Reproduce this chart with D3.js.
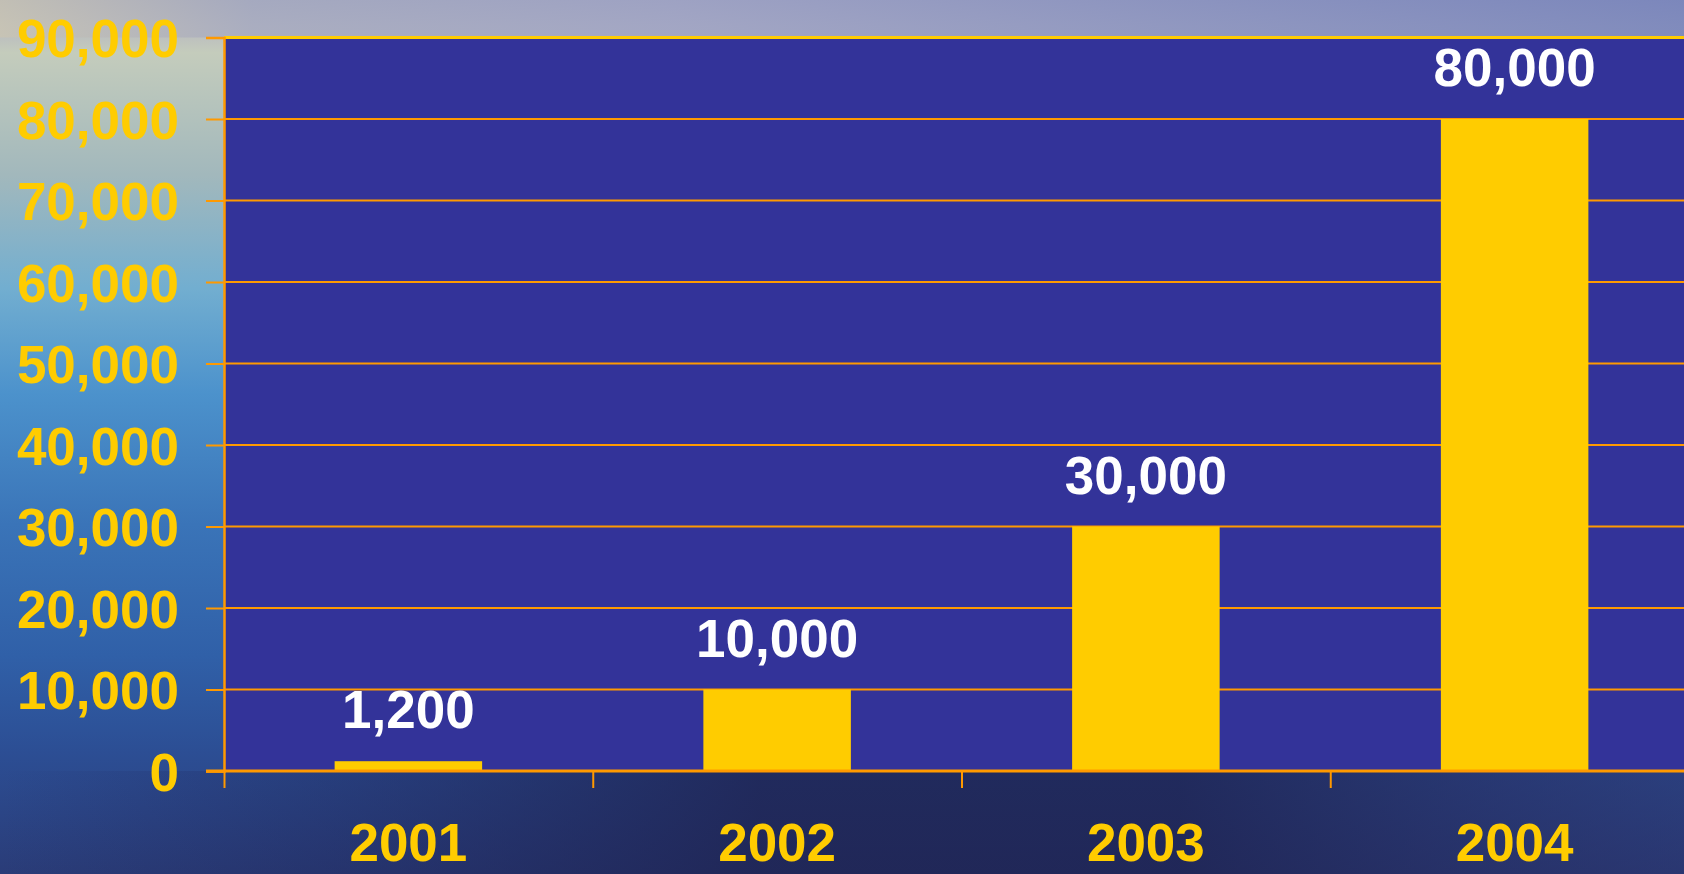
<!DOCTYPE html>
<html><head><meta charset="utf-8">
<script src="https://cdn.jsdelivr.net/npm/d3@7"></script>
<style>html,body{margin:0;padding:0;overflow:hidden;background:#22265a}</style>
</head><body>
<svg id="chart" width="1684" height="874"></svg>
<script>
const categories = ["2001", "2002", "2003", "2004"];
const values = [1200, 10000, 30000, 80000];
const valueLabels = ["1,200", "10,000", "30,000", "80,000"];
const yTicks = [0, 10000, 20000, 30000, 40000, 50000, 60000, 70000, 80000, 90000];

(function(){
const W = 1684, H = 874;
const mLeft = 224, mTop = 37.5, mBottom = 771, mRight = 1699;
const svg = d3.select("#chart");
const defs = svg.append("defs");

// background (ocean)
const g1 = defs.append("linearGradient").attr("id","bgV").attr("x1",0).attr("y1",0).attr("x2",0).attr("y2",1);
[[0,"#8a90b8"],[0.03,"#b8b8c0"],[0.06,"#c4ccbc"],[0.2,"#a2b8bc"],[0.33,"#72aed0"],[0.45,"#4c92cc"],[0.6,"#3a74b8"],[0.75,"#3060a8"],[0.86,"#2c4e94"],[1,"#2a3c78"]]
  .forEach(([o,c])=>g1.append("stop").attr("offset",o).attr("stop-color",c));
svg.append("rect").attr("width",W).attr("height",H).attr("fill","url(#bgV)");
const g2 = defs.append("linearGradient").attr("id","bgH").attr("x1",0).attr("y1",0).attr("x2",1).attr("y2",0);
[[0,"#1e2458",0],[0.2,"#1e2458",0.35],[0.45,"#1e2250",0.8],[0.7,"#1e2250",0.8],[1,"#2a3068",0.45]]
  .forEach(([o,c,op])=>g2.append("stop").attr("offset",o).attr("stop-color",c).attr("stop-opacity",op));
svg.append("rect").attr("x",0).attr("y",mBottom).attr("width",W).attr("height",H-mBottom).attr("fill","url(#bgH)");
const g3 = defs.append("linearGradient").attr("id","sky").attr("x1",0).attr("y1",0).attr("x2",1).attr("y2",0);
[[0,"#c8c4b4"],[0.15,"#a8acc0"],[0.4,"#a0a4c4"],[0.7,"#8c94c0"],[1,"#7a86bc"]]
  .forEach(([o,c])=>g3.append("stop").attr("offset",o).attr("stop-color",c));
svg.append("rect").attr("x",0).attr("y",0).attr("width",W).attr("height",mTop).attr("fill","url(#sky)").attr("opacity",0.9);

const x = d3.scaleBand().domain(categories).range([mLeft, mRight]).padding(0);
const y = d3.scaleLinear().domain([0, 90000]).range([mBottom, mTop]);
const bw = x.bandwidth();

// plot area
svg.append("rect").attr("x",mLeft).attr("y",y(90000)).attr("width",mRight-mLeft).attr("height",y(0)-y(90000)).attr("fill","#333399");

// gridlines
svg.append("g").selectAll("line").data(yTicks.filter(d=>d>0 && d<90000)).join("line")
  .attr("x1",mLeft).attr("x2",mRight).attr("y1",d=>y(d)).attr("y2",d=>y(d))
  .attr("stroke","#ff9900").attr("stroke-width",2);

// bars
svg.append("g").selectAll("rect").data(values).join("rect")
  .attr("x",(d,i)=>x(categories[i])+bw*0.3).attr("width",bw*0.4)
  .attr("y",d=>y(d)).attr("height",d=>y(0)-y(d)).attr("fill","#ffcc00");

// top border
svg.append("line").attr("x1",mLeft).attr("x2",mRight).attr("y1",y(90000)).attr("y2",y(90000))
  .attr("stroke","#ffcc00").attr("stroke-width",3);

// y axis
const yAxis = d3.axisLeft(y).tickValues(yTicks).tickSize(18).tickPadding(27).tickFormat(d3.format(","));
const ya = svg.append("g").attr("transform",`translate(${mLeft},0)`).call(yAxis);
ya.select(".domain").attr("stroke","#ff9900").attr("stroke-width",2.5);
ya.selectAll(".tick line").attr("stroke","#ff9900").attr("stroke-width",2);
ya.selectAll(".tick text").attr("fill","#ffcc00").attr("font-family","'Liberation Sans', Arial, sans-serif")
  .attr("font-weight","bold").attr("font-size",53).attr("dy","0.36em");

// x axis
const xAxis = d3.axisBottom(d3.scaleLinear().domain([0,4]).range([mLeft, mRight])).tickValues([0,1,2,3]).tickSize(17).tickFormat("");
const xa = svg.append("g").attr("transform",`translate(0,${mBottom})`).call(xAxis);
xa.select(".domain").remove();
xa.selectAll(".tick line").attr("stroke","#ff9900").attr("stroke-width",2);
svg.append("line").attr("x1",mLeft-18).attr("x2",mRight).attr("y1",mBottom).attr("y2",mBottom).attr("stroke","#ff9900").attr("stroke-width",3);

// category labels
svg.append("g").selectAll("text").data(categories).join("text")
  .attr("x",d=>x(d)+bw/2).attr("y",861).attr("text-anchor","middle")
  .attr("fill","#ffcc00").attr("font-family","'Liberation Sans', Arial, sans-serif")
  .attr("font-weight","bold").attr("font-size",53).text(d=>d);

// value labels
svg.append("g").selectAll("text").data(values).join("text")
  .attr("x",(d,i)=>x(categories[i])+bw/2).attr("y",d=>y(d)-33).attr("text-anchor","middle")
  .attr("fill","#ffffff").attr("font-family","'Liberation Sans', Arial, sans-serif")
  .attr("font-weight","bold").attr("font-size",53).text((d,i)=>valueLabels[i]);
})();
</script>
</body></html>
